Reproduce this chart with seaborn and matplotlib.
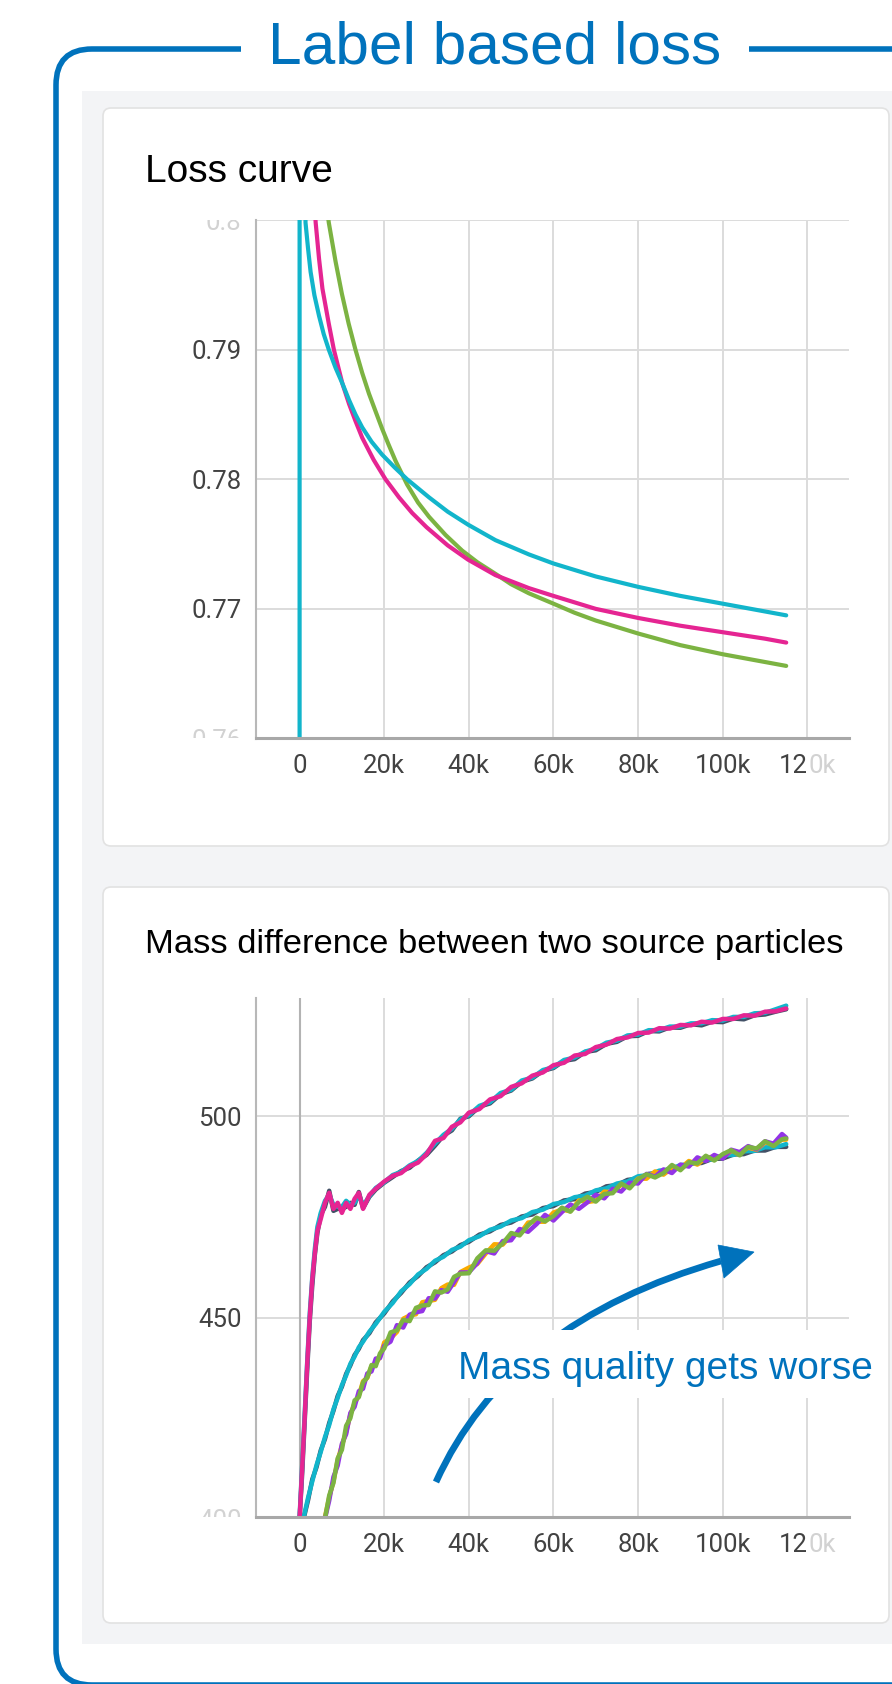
import matplotlib
matplotlib.use("Agg")
import matplotlib.pyplot as plt
import seaborn as sns
import numpy as np
import pandas as pd
from matplotlib.path import Path
from matplotlib.patches import PathPatch, FancyBboxPatch, Rectangle, Polygon
from matplotlib.transforms import IdentityTransform, Bbox, TransformedBbox

# ---------------- data ----------------
x_ticks = [0, 20000, 40000, 60000, 80000, 100000, 120000]
x_tick_labels = ["0", "20k", "40k", "60k", "80k", "100k", ""]

loss_yticks = [0.76, 0.77, 0.78, 0.79, 0.80]
loss_ylabels = ["", "0.77", "0.78", "0.79", ""]
mass_yticks = [450, 500]
mass_ylabels = ["450", "500"]

loss_cyan_steps = [0, 0, 1400, 2000, 2600, 3500, 4600, 5700, 6900, 8500, 10100, 11700, 13200, 14800,
                   17000, 19500, 22500, 25400, 30600, 35000, 39800, 46300, 54200, 60000, 70000,
                   80000, 90000, 100000, 110000, 115000]
loss_cyan = [0.700, 0.900, 0.7998, 0.7978, 0.7960, 0.7942, 0.7926, 0.7912, 0.7900, 0.7886, 0.7874,
             0.7861, 0.7850, 0.7840, 0.7829, 0.7819, 0.7809, 0.7800, 0.7786, 0.7775, 0.7765, 0.7753,
             0.7742, 0.7735, 0.7725, 0.7717, 0.7710, 0.7704, 0.7698, 0.7695]
loss_pink_steps = [2800, 3800, 4600, 5400, 6900, 8100, 10100, 11700, 13200, 14800, 17500, 20300,
                   23500, 26600, 30000, 35000, 39800, 46300, 54200, 60000, 70000, 80000, 90000,
                   100000, 110000, 115000]
loss_pink = [0.8050, 0.7998, 0.7970, 0.7947, 0.7920, 0.7900, 0.7874, 0.7858, 0.7845, 0.7832, 0.7815,
             0.7800, 0.7786, 0.7774, 0.7763, 0.7749, 0.7738, 0.7726, 0.7716, 0.7710, 0.7700, 0.7693,
             0.7687, 0.7682, 0.7677, 0.7674]
loss_green_steps = [5500, 6900, 8500, 10000, 11600, 13200, 14800, 16400, 18000, 19500, 21000, 22700,
                    25400, 28000, 30600, 34500, 38400, 42000, 46300, 50000, 54200, 60000, 65000,
                    70000, 75000, 80000, 90000, 100000, 110000, 115000]
loss_green = [0.8035, 0.7998, 0.7968, 0.7943, 0.7920, 0.7900, 0.7882, 0.7866, 0.7852, 0.7839, 0.7827,
              0.7814, 0.7796, 0.7782, 0.7771, 0.7757, 0.7745, 0.7736, 0.7727, 0.7719, 0.7712, 0.7704,
              0.7697, 0.7691, 0.7686, 0.7681, 0.7672, 0.7665, 0.7659, 0.7656]

steps_A = [0, 600, 1200, 1800, 2400, 3000, 3600, 4200, 5000, 6000, 7000, 8000, 9000, 10000, 11000,
           12000, 13000, 14000, 15000, 16500, 18000, 20000, 22000, 24000, 26000, 28000, 30000, 32000,
           34000, 36000, 38000, 40000, 42500, 45000, 47500, 50000, 52500, 55000, 57500, 60000, 62500,
           65000, 67500, 70000, 72500, 75000, 77500, 80000, 82500, 85000, 87500, 90000, 92500, 95000,
           97500, 100000, 102500, 105000, 107500, 110000, 112500, 115000]
mass_A_pink = [400.0, 412.5, 425.0, 438.5, 450.0, 459.5, 466.0, 471.5, 474.5, 478.5, 481.0, 477.0,
               478.5, 476.0, 478.5, 477.0, 479.5, 481.0, 477.0, 480.5, 482.0, 483.8, 485.2, 485.9,
               487.6, 488.5, 490.6, 493.9, 494.6, 497.4, 498.5, 500.9, 501.8, 504.2, 505.0, 507.3,
               508.2, 510.1, 510.9, 512.7, 513.3, 515.1, 515.5, 517.2, 517.8, 519.2, 519.6, 520.7,
               520.8, 521.9, 521.8, 522.7, 522.6, 523.5, 523.3, 524.2, 524.2, 525.1, 525.0, 526.0,
               526.1, 526.8]
mass_A_cyan = [400.5, 413.0, 426.0, 439.0, 451.0, 460.0, 467.0, 472.5, 476.0, 479.0, 480.5, 478.0,
               477.5, 477.5, 479.0, 478.0, 478.5, 480.5, 477.8, 480.2, 482.2, 483.6, 485.4, 486.2,
               487.8, 488.9, 490.9, 493.2, 495.4, 496.9, 499.2, 500.3, 502.6, 503.5, 505.8, 506.6,
               508.9, 509.6, 511.5, 512.2, 514.0, 514.6, 516.1, 516.8, 518.3, 518.8, 520.1, 520.3,
               521.4, 521.4, 522.3, 522.3, 523.1, 523.1, 523.9, 523.8, 524.7, 524.7, 525.6, 525.7,
               526.6, 527.5]
mass_A_dark = [400.0, 411.0, 424.0, 437.0, 449.0, 458.0, 465.5, 471.0, 475.5, 477.5, 481.5, 476.5,
               477.0, 477.0, 477.5, 478.5, 478.0, 481.2, 477.2, 480.0, 481.8, 483.5, 484.9, 486.4,
               487.2, 489.0, 490.4, 492.7, 495.2, 496.5, 499.4, 500.0, 502.4, 503.2, 505.5, 506.4,
               508.6, 509.4, 511.3, 512.0, 513.8, 514.2, 516.0, 516.4, 518.0, 518.5, 519.9, 520.0,
               521.2, 521.1, 522.1, 522.0, 522.9, 522.6, 523.5, 523.4, 524.3, 524.1, 525.1, 525.3,
               526.0, 526.6]

steps_B = [1000, 2000, 3000, 4000, 5000, 6000, 7000, 8000, 9000, 10000, 11000, 12000, 13000, 14000,
           15000, 16500, 18000, 20000, 22000, 24000, 26000, 28000, 30000, 32000, 34000, 36000, 38000,
           40000, 42500, 45000, 47500, 50000, 52500, 55000, 57500, 60000, 62500, 65000, 67500, 70000,
           72500, 75000, 77500, 80000, 82500, 85000, 87500, 90000, 92500, 95000, 97500, 100000,
           102500, 105000, 107500, 110000, 112500, 115000]
mass_B_cyan = [400.5, 405.2, 409.3, 413.3, 416.6, 420.3, 423.3, 427.2, 430.0, 433.2, 435.6, 438.5,
               440.3, 442.6, 444.0, 446.5, 448.4, 451.4, 453.6, 456.5, 458.3, 460.7, 462.1, 464.1,
               465.1, 466.8, 467.6, 469.2, 470.2, 471.8, 472.6, 474.1, 474.7, 476.2, 476.8, 478.2,
               478.7, 479.9, 480.3, 481.6, 482.1, 483.3, 483.8, 485.1, 485.4, 486.5, 486.8, 487.9,
               488.1, 489.1, 489.3, 490.3, 490.4, 491.3, 491.4, 492.3, 492.3, 493.1]
mass_B_dark = [400.2, 404.6, 409.8, 412.8, 417.0, 419.8, 423.8, 426.8, 430.5, 432.8, 436.0, 438.1,
               440.7, 442.2, 444.4, 446.1, 448.8, 451.0, 454.0, 456.1, 458.7, 460.3, 462.5, 463.7,
               465.5, 466.4, 468.0, 468.8, 470.6, 471.4, 473.0, 473.6, 475.1, 475.6, 477.2, 477.7,
               479.1, 479.4, 480.8, 481.2, 482.6, 482.9, 484.2, 484.5, 485.7, 485.9, 487.0, 487.2,
               488.3, 488.4, 489.4, 489.5, 490.5, 490.6, 491.5, 491.5, 492.4, 492.4]

steps_C = [6000, 7000, 8000, 9000, 10000, 11000, 12000, 13000, 14000, 15000, 16000, 17000, 18000,
           19000, 20000, 21500, 23000, 24500, 26000, 27500, 29000, 30500, 32000, 33500, 35000, 36500,
           38000, 40000, 42000, 44000, 46000, 48000, 50000, 52000, 54000, 56000, 58000, 60000, 62000,
           64000, 66000, 68000, 70000, 72000, 74000, 76000, 78000, 80000, 82000, 84000, 86000, 88000,
           90000, 92000, 94000, 96000, 98000, 100000, 102000, 104000, 106000, 108000, 110000, 112000,
           114000, 115000]
mass_C_green = [400.0, 405.8, 408.9, 415.0, 417.1, 423.1, 425.0, 429.4, 430.2, 433.9, 435.1, 438.2,
                437.9, 441.1, 442.3, 446.3, 446.8, 449.4, 449.1, 452.4, 453.0, 453.1, 456.5, 456.2,
                457.0, 460.1, 460.9, 461.0, 464.7, 466.7, 466.6, 468.4, 471.0, 470.4, 472.9, 474.8,
                473.9, 475.2, 477.3, 476.3, 478.7, 480.0, 478.8, 480.7, 480.9, 483.3, 482.1, 484.4,
                485.6, 484.8, 485.9, 487.9, 486.6, 488.6, 488.3, 490.2, 489.0, 490.6, 491.6, 490.3,
                492.4, 492.0, 493.8, 492.6, 494.3, 494.5]
mass_C_purple = [400.0, 404.5, 410.4, 413.2, 418.6, 421.0, 426.3, 427.8, 431.7, 432.3, 436.1, 436.6,
                 439.8, 439.9, 443.0, 444.0, 448.1, 447.5, 450.7, 451.3, 451.6, 454.8, 454.7, 456.8,
                 456.4, 458.8, 461.2, 461.2, 463.5, 466.5, 465.9, 469.0, 469.2, 472.0, 471.3, 473.2,
                 475.5, 474.1, 476.2, 478.1, 477.0, 478.6, 480.5, 479.6, 482.0, 481.3, 483.5, 483.3,
                 485.7, 485.0, 486.8, 485.9, 488.0, 487.5, 489.8, 488.9, 490.4, 489.5, 491.7, 491.1,
                 492.6, 491.8, 493.8, 493.2, 495.6, 494.7]
mass_C_orange = [400.5, 405.3, 409.2, 414.6, 418.2, 421.5, 425.9, 428.7, 430.6, 434.2, 435.0, 437.9,
                 438.5, 440.2, 443.8, 444.8, 446.4, 449.7, 450.5, 450.8, 453.8, 454.1, 454.4, 457.3,
                 458.2, 458.1, 461.3, 462.4, 463.3, 465.9, 468.2, 468.1, 470.4, 470.7, 473.6, 473.8,
                 473.8, 476.1, 476.8, 476.4, 479.1, 478.7, 479.0, 481.3, 481.1, 483.0, 482.3, 484.5,
                 484.5, 486.3, 485.5, 487.1, 487.1, 488.9, 488.0, 489.7, 490.0, 489.7, 491.4, 491.0,
                 492.2, 491.7, 493.5, 493.1, 494.2, 494.2]

# TensorBoard palette
C_DARK, C_CYAN, C_PINK = "#425066", "#12b5cb", "#e52592"
C_ORANGE, C_PURPLE, C_GREEN = "#f9ab00", "#9334e6", "#7cb342"
BLUE = "#0072bc"

# ---------------- figure ----------------
sns.set_theme(style="white")
plt.rcParams['font.family'] = ['Liberation Sans', 'DejaVu Sans']

W, H = 892, 1684
fig = plt.figure(figsize=(W / 100, H / 100), dpi=100)
fig.patch.set_facecolor("white")
ident = IdentityTransform()


def Y(y):
    return H - y


# grey panel and white cards
fig.add_artist(Rectangle((82, Y(1644)), 830, 1644 - 91, transform=ident,
                         facecolor="#f3f4f6", edgecolor="none", zorder=-10))
for top, bot in [(108, 846), (887, 1623)]:
    fig.add_artist(FancyBboxPatch((103, Y(bot)), 786, bot - top,
                                  boxstyle="round,pad=0,rounding_size=8", transform=ident,
                                  facecolor="white", edgecolor="#e2e2e2", lw=1.2, zorder=-5))

# blue frame
r = 36
x0, ytop, ybot = 56, Y(49), -1
verts = [(241, ytop), (x0 + r, ytop), (x0, ytop), (x0, ytop - r), (x0, ybot + r), (x0, ybot),
         (x0 + r, ybot), (W + 20, ybot)]
codes = [Path.MOVETO, Path.LINETO, Path.CURVE3, Path.CURVE3, Path.LINETO, Path.CURVE3,
         Path.CURVE3, Path.LINETO]
fig.add_artist(PathPatch(Path(verts, codes), transform=ident, fill=False, edgecolor=BLUE,
                         lw=4.0, capstyle="butt", zorder=-1))
fig.add_artist(PathPatch(Path([(749, ytop), (W + 20, ytop)], [Path.MOVETO, Path.LINETO]),
                         transform=ident, fill=False, edgecolor=BLUE, lw=4.0, capstyle="butt",
                         zorder=-1))
fig.text(495 / W, Y(63) / H, "Label based loss", ha="center", va="baseline",
         fontsize=43.5, color=BLUE)

# card titles
fig.text(145 / W, Y(182) / H, "Loss curve", ha="left", va="baseline", fontsize=28, color="black")
fig.text(145 / W, Y(953) / H, "Mass difference between two source particles", ha="left",
         va="baseline", fontsize=24.8, color="black")

ax1 = fig.add_axes([255.5 / W, 1 - 738.5 / H, (849 - 255.5) / W, (738.5 - 220) / H])
ax2 = fig.add_axes([255.5 / W, 1 - 1516.7 / H, (849 - 255.5) / W, (1516.7 - 998) / H])

TICK_FONT = dict(fontsize=18.5, family="Roboto", color="#424242")
FADE = "#d2d2d2"


def style(ax, ylim, yticks, ylabels):
    ax.set_facecolor("none")
    ax.set_xlim(-10420, 129840)
    ax.set_ylim(*ylim)
    ax.set_xticks(x_ticks)
    ax.set_xticklabels(x_tick_labels, **TICK_FONT)
    ax.set_yticks(yticks)
    ax.set_yticklabels(ylabels, **TICK_FONT)
    ax.tick_params(axis="both", length=0)
    ax.tick_params(axis="x", pad=11.5)
    ax.tick_params(axis="y", pad=10)
    ax.grid(True, color="#dcdcdc", lw=1.4)
    ax.set_axisbelow(True)
    for s in ["top", "right"]:
        ax.spines[s].set_visible(False)
    ax.spines["left"].set_color("#b8b8b8")
    ax.spines["left"].set_linewidth(1.5)
    ax.spines["bottom"].set_color("#a8a8a8")
    ax.spines["bottom"].set_linewidth(2.2)
    ax.set_xlabel("")
    ax.set_ylabel("")
    # 120k label fading out at the right edge
    ax.annotate("12", xy=(120000, 0), xycoords=("data", "axes fraction"), xytext=(0.5, -11.5),
                textcoords="offset points", ha="right", va="top", annotation_clip=False,
                **TICK_FONT)
    ax.annotate("0k", xy=(120000, 0), xycoords=("data", "axes fraction"), xytext=(0.5, -11.5),
                textcoords="offset points", ha="left", va="top", annotation_clip=False,
                fontsize=18.5, family="Roboto", color=FADE)


def faded_ylabel(ax, val, text):
    t = ax.annotate(text, xy=(0, val), xycoords=("axes fraction", "data"), xytext=(-10, 0),
                    textcoords="offset points", ha="right", va="center_baseline",
                    fontsize=18.5, family="Roboto", color=FADE, annotation_clip=False)
    t.set_clip_box(TransformedBbox(Bbox([[-1.0, 0.0], [1.0, 1.0]]), ax.transAxes))
    t.set_clip_on(True)


# ---- loss curve ----
for steps, vals, col in [(loss_green_steps, loss_green, C_GREEN),
                         (loss_pink_steps, loss_pink, C_PINK),
                         (loss_cyan_steps, loss_cyan, C_CYAN)]:
    sns.lineplot(x=steps, y=vals, ax=ax1, color=col, linewidth=3.0, estimator=None, sort=False,
                 legend=False)
style(ax1, (0.7602, 0.8000), loss_yticks, loss_ylabels)
faded_ylabel(ax1, 0.80, "0.8")
faded_ylabel(ax1, 0.76, "0.76")

# ---- mass difference ----
ax2.axvline(0, color="#b3b3b3", lw=1.5, zorder=1.5)
series = [(steps_B, mass_B_dark, C_DARK), (steps_B, mass_B_cyan, C_CYAN),
          (steps_C, mass_C_orange, C_ORANGE), (steps_C, mass_C_purple, C_PURPLE),
          (steps_C, mass_C_green, C_GREEN),
          (steps_A, mass_A_dark, C_DARK), (steps_A, mass_A_cyan, C_CYAN),
          (steps_A, mass_A_pink, C_PINK)]
for steps, vals, col in series:
    sns.lineplot(x=steps, y=vals, ax=ax2, color=col, linewidth=3.2, estimator=None, sort=False,
                 legend=False)
style(ax2, (400.5, 529.4), mass_yticks, mass_ylabels)
faded_ylabel(ax2, 400, "400")

# ---- annotation arrow + label ----
shaft = Path([(436, Y(1482)), (508, Y(1322)), (721, Y(1261))],
             [Path.MOVETO, Path.CURVE3, Path.CURVE3])
fig.add_artist(PathPatch(shaft, transform=ident, fill=False, edgecolor=BLUE, lw=4.8,
                         capstyle="butt", zorder=4))
fig.add_artist(Polygon([(718, Y(1245)), (754, Y(1252)), (724, Y(1278))], closed=True,
                       transform=ident, facecolor=BLUE, edgecolor=BLUE, lw=0.5, zorder=4))
fig.add_artist(Rectangle((451, Y(1398)), 437, 68, transform=ident, facecolor="white",
                         edgecolor="none", zorder=5))
fig.text(458 / W, Y(1379) / H, "Mass quality gets worse", ha="left", va="baseline",
         fontsize=28, color=BLUE, zorder=6)

fig.savefig("out.png", dpi=100, facecolor="white")
